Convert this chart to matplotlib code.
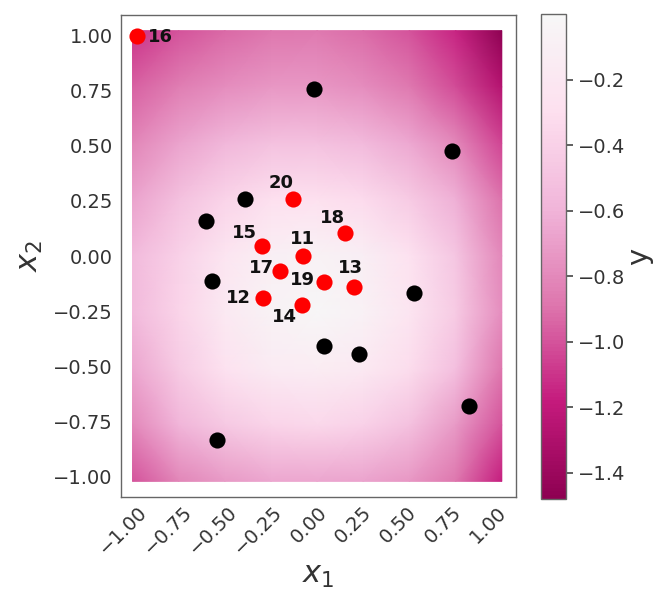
import numpy as np
import matplotlib
matplotlib.use("Agg")
import matplotlib.pyplot as plt
from matplotlib.colors import ListedColormap

# ---- data ----
grid_x1 = [-1.0, -0.75, -0.5, -0.25, 0.0, 0.25, 0.5, 0.75, 1.0]
grid_x2 = [1.0, 0.75, 0.5, 0.25, 0.0, -0.25, -0.5, -0.75, -1.0]
# predicted y on the grid (rows follow grid_x2, columns follow grid_x1)
grid_y = [
    [-1.10, -1.00, -0.93, -0.88, -0.87, -0.92, -1.00, -1.15, -1.48],
    [-0.95, -0.85, -0.78, -0.74, -0.74, -0.78, -0.87, -1.02, -1.27],
    [-0.82, -0.68, -0.58, -0.52, -0.52, -0.56, -0.65, -0.80, -1.05],
    [-0.68, -0.52, -0.38, -0.30, -0.28, -0.33, -0.44, -0.62, -0.90],
    [-0.56, -0.40, -0.22, -0.10, -0.06, -0.12, -0.27, -0.48, -0.80],
    [-0.56, -0.38, -0.18, -0.06, -0.02, -0.07, -0.22, -0.44, -0.78],
    [-0.66, -0.45, -0.27, -0.16, -0.13, -0.18, -0.32, -0.53, -0.88],
    [-0.80, -0.60, -0.46, -0.38, -0.35, -0.40, -0.52, -0.72, -1.00],
    [-1.00, -0.82, -0.72, -0.67, -0.66, -0.68, -0.74, -0.88, -1.17],
]
y_min, y_max = -1.48, 0.0

train_x1 = [-0.02, 0.75, -0.40, -0.62, -0.585, 0.54, 0.04, 0.23, 0.844, -0.554]
train_x2 = [0.76, 0.477, 0.26, 0.16, -0.112, -0.17, -0.41, -0.447, -0.68, -0.836]

new_ids = ["11", "12", "13", "14", "15", "16", "17", "18", "19", "20"]
new_x1 = [-0.08, -0.30, 0.207, -0.085, -0.305, -1.0, -0.207, 0.152, 0.039, -0.133]
new_x2 = [0.0, -0.19, -0.139, -0.224, 0.044, 1.0, -0.067, 0.103, -0.12, 0.259]

x_ticks = [-1.0, -0.75, -0.5, -0.25, 0.0, 0.25, 0.5, 0.75, 1.0]
cbar_ticks = [-1.4, -1.2, -1.0, -0.8, -0.6, -0.4, -0.2]

# ---- style ----
label_offsets = {
    "11": (-0.5, 12.2), "12": (-17.8, 0.2), "13": (-2.6, 13.2),
    "14": (-12.7, -8.2), "15": (-12.5, 9.4), "16": (17.0, -0.5),
    "17": (-13.0, 1.7), "18": (-8.6, 10.8), "19": (-15.4, 1.9),
    "20": (-8.4, 11.3),
}
cell_pad_x = 1.026   # background cells drawn as dots reach a bit past +-1
cell_pad_y = 1.024
text_color = "#333333"
cmap = ListedColormap(plt.get_cmap("PiYG")(np.linspace(0.0, 0.5, 256)))

fig = plt.figure(figsize=(6.55, 5.97), dpi=100)
ax = fig.add_axes([121 / 655, 1 - 497 / 597, (516 - 121) / 655, (497 - 15) / 597])
cax = fig.add_axes([541 / 655, 1 - 499 / 597, 25 / 655, 485 / 597])

X, Y = np.meshgrid(np.array(grid_x1) * cell_pad_x, np.array(grid_x2) * cell_pad_y)
mesh = ax.pcolormesh(X, Y, np.array(grid_y), cmap=cmap, vmin=y_min, vmax=y_max,
                     shading="gouraud", zorder=1)

ax.scatter(train_x1, train_x2, s=135, c="black", zorder=3, linewidths=0)
ax.scatter(new_x1, new_x2, s=135, c="#ff0000", zorder=3, linewidths=0)
for lab, xx, yy in zip(new_ids, new_x1, new_x2):
    ax.annotate(lab, (xx, yy), xytext=label_offsets[lab], textcoords="offset points",
                ha="center", va="center", fontsize=13, fontweight="bold",
                color="#111111", zorder=4)

ax.set_xlim(-1.09, 1.105)
ax.set_ylim(-1.095, 1.095)
ax.set_xticks(x_ticks)
ax.set_yticks(x_ticks)
ax.set_xticklabels([f"{t:.2f}".replace("-", "\u2212") for t in x_ticks],
                   rotation=45, ha="right", rotation_mode="anchor")
ax.set_yticklabels([f"{t:.2f}".replace("-", "\u2212") for t in x_ticks])
ax.tick_params(axis="both", length=0, labelsize=14, labelcolor=text_color, pad=6)
ax.tick_params(axis="x", pad=4)
for sp in ax.spines.values():
    sp.set_color("#666666")
    sp.set_linewidth(1.0)
ax.set_xlabel("$x_1$", fontsize=22, color=text_color, labelpad=2)
ax.set_ylabel("$x_2$", fontsize=22, color=text_color, labelpad=6)

cb = fig.colorbar(mesh, cax=cax)
cb.set_ticks(cbar_ticks)
cb.set_ticklabels([f"{t:.1f}".replace("-", "\u2212") for t in cbar_ticks])
cb.ax.tick_params(labelsize=14, labelcolor=text_color, color="#444444", length=5, width=1.2)
cb.outline.set_edgecolor("#666666")
cb.outline.set_linewidth(1.0)
cb.set_label("y", fontsize=21, color=text_color, labelpad=0)

fig.savefig("out.png", dpi=100)
